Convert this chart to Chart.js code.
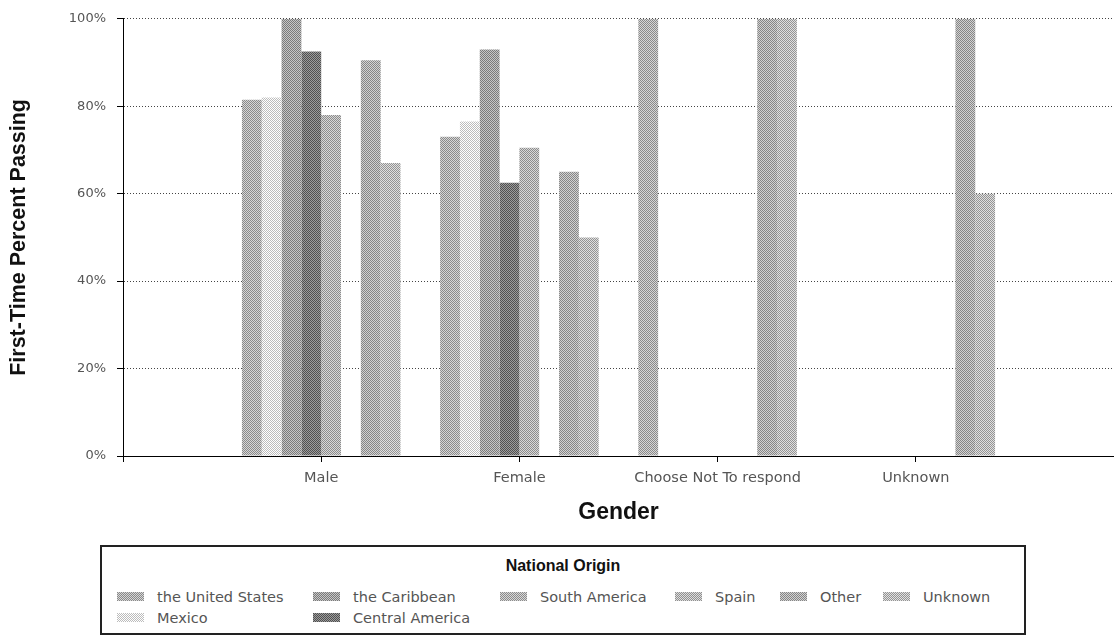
<!DOCTYPE html>
<html>
<head>
<meta charset="utf-8">
<script src="https://cdn.jsdelivr.net/npm/chart.js@4/dist/chart.umd.min.js"></script>
<style>
  body { margin: 0; background: #fff; }
  #wrap { position: relative; width: 1114px; height: 639px; }
  #legend {
    position: absolute; left: 100px; top: 545px; width: 922px; height: 86px;
    border: 2px solid #222; background: #fff; font-family: "DejaVu Sans", sans-serif;
  }
  #legend .title {
    text-align: center; font: bold 16px "Liberation Sans", Arial, sans-serif;
    color: #111; margin-top: 9px; line-height: 20px;
  }
  #legend .items {
    display: grid; grid-template-rows: 21px 21px;
    grid-template-columns: 196px 187px 175px 105px 103px auto;
    margin: 10px 0 0 15px;
  }
  #legend .item { display: flex; align-items: center; font-size: 14.5px; color: #555; white-space: nowrap; }
  #legend .sw { width: 27px; height: 9px; margin-right: 13px; }
</style>
</head>
<body>
<div id="wrap">
  <canvas id="chart" width="1114" height="639"></canvas>
  <div id="legend">
    <div class="title">National Origin</div>
    <div class="items" id="legend-items"></div>
  </div>
</div>
<script>
const categories = ['Male', 'Female', 'Choose Not To respond', 'Unknown'];

const seriesNames = ['the United States', 'Mexico', 'the Caribbean', 'Central America',
                     'South America', 'Spain', 'Other', 'Unknown'];

// percent passing per gender, null = no bar
const unitedStates   = [81.5, 73,   100,  null];
const mexico         = [82,   76.5, null, null];
const caribbean      = [100,  93,   null, null];
const centralAmerica = [92.5, 62.5, null, null];
const southAmerica   = [78,   70.5, null, null];
const spain          = [null, null, null, null];
const other          = [90.5, 65,   100,  100];
const unknownOrigin  = [67,   50,   100,  60];

const yTicks = [0, 20, 40, 60, 80, 100];

const seriesValues = [unitedStates, mexico, caribbean, centralAmerica,
                      southAmerica, spain, other, unknownOrigin];
const shades = [176, 226, 160, 118, 178, 182, 172, 186];

// where each entry sits in the legend box [row, column]
const legendSlots = [[1, 1], [2, 1], [1, 2], [2, 2], [1, 3], [1, 4], [1, 5], [1, 6]];

// small checkerboard tile to imitate the halftone print
function halftone(base)
{
    const c = document.createElement('canvas');
    c.width = 2;
    c.height = 2;
    const g = c.getContext('2d');
    const hi = Math.min(255, base + 38), lo = Math.max(0, base - 38);
    g.fillStyle = `rgb(${hi},${hi},${hi})`;
    g.fillRect(0, 0, 2, 2);
    g.fillStyle = `rgb(${lo},${lo},${lo})`;
    g.fillRect(0, 0, 1, 1);
    g.fillRect(1, 1, 1, 1);
    return c;
}

const ctx = document.getElementById('chart').getContext('2d');
const tiles = shades.map(halftone);

// empty slot on each side so the groups sit where the original axis puts them
const labels = [''].concat(categories, ['']);

const datasets = seriesNames.map((name, i) => ({
    label: name,
    data: [null].concat(seriesValues[i], [null]),
    backgroundColor: ctx.createPattern(tiles[i], 'repeat'),
    borderWidth: 0,
    categoryPercentage: 0.8,
    barPercentage: 1.0
}));

const chart = new Chart(ctx, {
    type: 'bar',
    data: { labels: labels, datasets: datasets },
    options: {
        responsive: false,
        animation: false,
        layout: { padding: { top: 17, right: 0, bottom: 113, left: 0 } },
        plugins: { legend: { display: false }, tooltip: { enabled: false } },
        scales: {
            x: {
                offset: false,
                grid: {
                    offset: false,
                    drawOnChartArea: false,
                    tickLength: 6,
                    tickColor: c => c.index === labels.length - 1 ? 'rgba(0,0,0,0)' : '#000'
                },
                border: { color: '#000', width: 1 },
                ticks: {
                    color: '#555',
                    // padding 0 keeps the plot reaching the right edge; lineHeight moves the text down
                    font: { family: 'DejaVu Sans', size: 14.5, lineHeight: 2.25 },
                    padding: 0,
                    maxRotation: 0,
                    autoSkip: false
                },
                title: {
                    display: true,
                    text: 'Gender',
                    color: '#111',
                    font: { family: 'Liberation Sans', size: 23, weight: 'bold' },
                    padding: { top: 0, bottom: 0 }
                },
                afterFit: s => { s.height = 70; }
            },
            y: {
                min: 0,
                max: 100,
                afterBuildTicks: s => { s.ticks = yTicks.map(v => ({ value: v })); },
                grid: { color: '#444', tickColor: '#000', tickLength: 6 },
                border: { color: '#000', width: 1, dash: [1, 2] },
                ticks: {
                    color: '#555',
                    font: { family: 'DejaVu Sans', size: 13 },
                    padding: 11,
                    callback: v => v + '%'
                },
                title: {
                    display: true,
                    text: 'First-Time Percent Passing',
                    color: '#111',
                    font: { family: 'Liberation Sans', size: 21.5, weight: 'bold' },
                    padding: { top: 6, bottom: 0 }
                },
                afterFit: s => { s.width = 123; }
            }
        }
    }
});

// legend laid out like the original, built from the datasets
const legendItems = document.getElementById('legend-items');
chart.data.datasets.forEach((ds, i) => {
    const item = document.createElement('div');
    item.className = 'item';
    item.style.gridRow = legendSlots[i][0];
    item.style.gridColumn = legendSlots[i][1];
    const sw = document.createElement('span');
    sw.className = 'sw';
    sw.style.backgroundImage = `url(${tiles[i].toDataURL()})`;
    item.appendChild(sw);
    item.appendChild(document.createTextNode(ds.label));
    legendItems.appendChild(item);
});
</script>
</body>
</html>
